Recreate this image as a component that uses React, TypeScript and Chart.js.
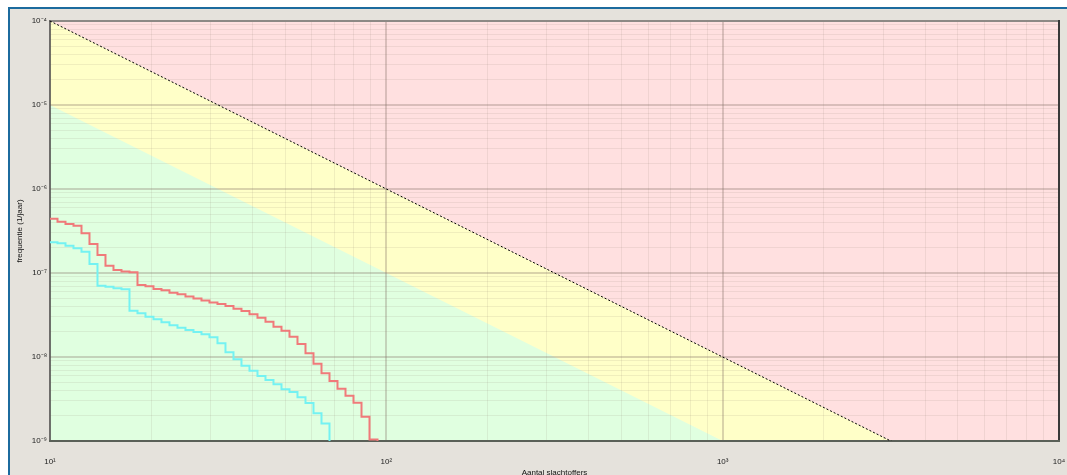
import React, { useEffect, useRef } from 'react';
import { Chart, registerables } from 'chart.js';

Chart.register(...registerables);

// ---- data ----
const limitN = [10, 10000];
const upperLimitF = [1e-4, 1e-10]; // dashed line (F = 1e-2 / N^2)
const lowerLimitF = [1e-5, 1e-11]; // yellow/green boundary (F = 1e-3 / N^2)

const redN = [10, 10.527, 11.119, 11.745, 12.406, 13.104, 13.842, 14.621, 15.444, 16.313, 17.232, 18.202, 19.225, 20.308, 21.451, 22.658, 23.935, 25.281, 26.705, 28.208, 29.796, 31.474, 33.247, 35.118, 37.095, 39.184, 41.391, 43.722, 46.182, 48.783, 51.53, 54.431, 57.497, 60.735, 64.154, 67.766, 71.582, 75.613, 79.871, 84.367, 89.118, 94.14];
const redF = [4.43e-7, 4.08e-7, 3.83e-7, 3.66e-7, 2.97e-7, 2.21e-7, 1.64e-7, 1.22e-7, 1.086e-7, 1.04e-7, 1.02e-7, 7.2e-8, 6.94e-8, 6.45e-8, 6.22e-8, 5.83e-8, 5.58e-8, 5.25e-8, 4.97e-8, 4.71e-8, 4.46e-8, 4.28e-8, 4.05e-8, 3.76e-8, 3.53e-8, 3.22e-8, 2.94e-8, 2.63e-8, 2.29e-8, 2.06e-8, 1.74e-8, 1.43e-8, 1.11e-8, 8.32e-9, 6.4e-9, 5.18e-9, 4.19e-9, 3.46e-9, 2.86e-9, 1.95e-9, 1.04e-9, 1e-10];

const cyanN = [10, 10.527, 11.119, 11.745, 12.406, 13.104, 13.842, 14.621, 15.444, 16.313, 17.232, 18.202, 19.225, 20.308, 21.451, 22.658, 23.935, 25.281, 26.705, 28.208, 29.796, 31.474, 33.247, 35.118, 37.095, 39.184, 41.391, 43.722, 46.182, 48.783, 51.53, 54.431, 57.497, 60.735, 64.154, 67.766];
const cyanF = [2.32e-7, 2.26e-7, 2.11e-7, 1.97e-7, 1.79e-7, 1.28e-7, 7.06e-8, 6.87e-8, 6.58e-8, 6.4e-8, 3.56e-8, 3.31e-8, 3.02e-8, 2.81e-8, 2.59e-8, 2.38e-8, 2.23e-8, 2.1e-8, 1.98e-8, 1.86e-8, 1.72e-8, 1.46e-8, 1.14e-8, 9.39e-9, 7.88e-9, 6.87e-9, 5.94e-9, 5.32e-9, 4.73e-9, 4.13e-9, 3.83e-9, 3.31e-9, 2.83e-9, 2.14e-9, 1.62e-9, 1e-10];

const xMajorValues = [10, 100, 1000, 10000];
const xMajorLabels = ['10¹', '10²', '10³', '10⁴'];
const yMajorValues = [1e-9, 1e-8, 1e-7, 1e-6, 1e-5, 1e-4];
const yMajorLabels = ['10⁻⁹', '10⁻⁸', '10⁻⁷', '10⁻⁶', '10⁻⁵', '10⁻⁴'];

const xTitle = 'Aantal slachtoffers';
const yTitle = 'frequentie (1/jaar)';

// ---- styles ----
const FONT = "'Liberation Sans', Arial, sans-serif";
const RED_ZONE = '#ffe0e0';
const YELLOW_ZONE = '#ffffc8';
const GREEN_ZONE = '#e0ffe0';
const MINOR_GRID = 'rgba(140,120,110,0.13)';
const MAJOR_GRID = 'rgba(130,110,100,0.3)';

const isMajor = (v: number) => {
  if (!(v > 0)) return false;
  const l = Math.log10(v);
  return Math.abs(l - Math.round(l)) < 1e-6;
};

const labelFor = (v: number, values: number[], labels: string[]) => {
  for (let i = 0; i < values.length; i++) {
    if (Math.abs(Math.log10(v) - Math.log10(values[i])) < 1e-6) return labels[i];
  }
  return '';
};

const decadeTicks = (majors: number[]) => {
  const t: { value: number }[] = [];
  for (let i = 0; i < majors.length - 1; i++) {
    for (let m = 1; m < 10; m++) t.push({ value: m * majors[i] });
  }
  t.push({ value: majors[majors.length - 1] });
  return t;
};

const toPoints = (xs: number[], ys: number[]) => xs.map((x, i) => ({ x, y: ys[i] }));

const framePlugin = {
  id: 'frame',
  beforeDatasetsDraw(chart: any) {
    const { ctx, chartArea } = chart;
    const { left, top, right, bottom } = chartArea;
    ctx.save();
    ctx.lineCap = 'square';
    ctx.strokeStyle = '#8d8985';
    ctx.lineWidth = 2;
    ctx.beginPath(); ctx.moveTo(left, top); ctx.lineTo(right, top); ctx.stroke();
    ctx.strokeStyle = '#505050';
    ctx.lineWidth = 1.5;
    ctx.beginPath(); ctx.moveTo(left, top); ctx.lineTo(left, bottom); ctx.stroke();
    ctx.strokeStyle = '#3a3a3a';
    ctx.lineWidth = 2;
    ctx.beginPath(); ctx.moveTo(right, top); ctx.lineTo(right, bottom); ctx.stroke();
    ctx.strokeStyle = '#5a6058';
    ctx.lineWidth = 2;
    ctx.beginPath(); ctx.moveTo(left, bottom); ctx.lineTo(right, bottom); ctx.stroke();
    ctx.restore();
  },
};

export default function App() {
  const ref = useRef<HTMLCanvasElement>(null);

  useEffect(() => {
    const canvas = ref.current;
    if (!canvas) return;
    const chart = new Chart(canvas, {
      type: 'line',
      data: {
        datasets: [
          {
            label: 'red',
            data: toPoints(redN, redF),
            borderColor: '#f07a7a',
            borderWidth: 2,
            pointRadius: 0,
            stepped: 'before',
            fill: false,
          },
          {
            label: 'cyan',
            data: toPoints(cyanN, cyanF),
            borderColor: '#74f2f2',
            borderWidth: 2,
            pointRadius: 0,
            stepped: 'before',
            fill: false,
          },
          {
            label: 'upper limit',
            data: toPoints(limitN, upperLimitF),
            borderColor: '#000000',
            borderWidth: 1,
            borderDash: [2, 2],
            pointRadius: 0,
            fill: false,
          },
          {
            label: 'green zone',
            data: toPoints(limitN, lowerLimitF),
            borderColor: 'rgba(0,0,0,0)',
            borderWidth: 1,
            pointRadius: 0,
            backgroundColor: GREEN_ZONE,
            fill: 'start',
          },
          {
            label: 'yellow zone',
            data: toPoints(limitN, upperLimitF),
            borderColor: 'rgba(0,0,0,0)',
            borderWidth: 1,
            pointRadius: 0,
            backgroundColor: YELLOW_ZONE,
            fill: 'start',
          },
          {
            label: 'red zone',
            data: toPoints(limitN, upperLimitF),
            borderColor: 'rgba(0,0,0,0)',
            borderWidth: 1,
            pointRadius: 0,
            backgroundColor: RED_ZONE,
            fill: 'end',
          },
        ],
      },
      options: {
        animation: false,
        responsive: false,
        devicePixelRatio: 1,
        events: [],
        layout: { padding: { left: 0, top: 12, right: 8, bottom: 0 } },
        plugins: {
          legend: { display: false },
          tooltip: { enabled: false },
          filler: { drawTime: 'beforeDraw', propagate: false },
        },
        scales: {
          x: {
            type: 'logarithmic',
            min: 10,
            max: 10000,
            afterBuildTicks: (scale: any) => { scale.ticks = decadeTicks(xMajorValues); },
            afterFit: (scale: any) => {
              scale.height = 38;
              scale.paddingLeft = 0;
              scale.paddingRight = 0;
            },
            ticks: {
              autoSkip: false,
              maxRotation: 0,
              padding: 16,
              color: '#222',
              font: { family: FONT, size: 8 },
              callback: (v: any) => labelFor(Number(v), xMajorValues, xMajorLabels),
            },
            grid: {
              drawTicks: false,
              color: (c: any) => (isMajor(c.tick?.value) ? MAJOR_GRID : MINOR_GRID),
              lineWidth: (c: any) => (isMajor(c.tick?.value) ? 2 : 1),
            },
            border: { display: false },
            title: {
              display: true,
              text: xTitle,
              color: '#111',
              font: { family: FONT, size: 8 },
              padding: { top: 0, bottom: 1.2 },
            },
          },
          y: {
            type: 'logarithmic',
            min: 1e-9,
            max: 1e-4,
            afterBuildTicks: (scale: any) => { scale.ticks = decadeTicks(yMajorValues); },
            afterFit: (scale: any) => {
              scale.width = 40;
              scale.paddingTop = 0;
              scale.paddingBottom = 0;
            },
            ticks: {
              autoSkip: false,
              padding: 3,
              color: '#222',
              font: { family: FONT, size: 8 },
              callback: (v: any) => labelFor(Number(v), yMajorValues, yMajorLabels),
            },
            grid: {
              drawTicks: false,
              color: (c: any) => (isMajor(c.tick?.value) ? MAJOR_GRID : MINOR_GRID),
              lineWidth: (c: any) => (isMajor(c.tick?.value) ? 2 : 1),
            },
            border: { display: false },
            title: {
              display: true,
              text: yTitle,
              color: '#111',
              font: { family: FONT, size: 8 },
              padding: { top: 4.6, bottom: 0 },
            },
          },
        },
      } as any,
      plugins: [framePlugin],
    });
    return () => chart.destroy();
  }, []);

  return (
    <div style={{ position: 'fixed', left: 0, top: 0, width: 1067, height: 475, background: '#ffffff', overflow: 'hidden' }}>
      <div
        style={{
          position: 'absolute',
          left: 8,
          top: 7,
          width: 1059,
          height: 468,
          boxSizing: 'border-box',
          borderTop: '2px solid #1c6b9e',
          borderLeft: '2px solid #1c6b9e',
          background: '#e5e2dc',
        }}
      >
        <canvas ref={ref} width={1057} height={470} style={{ display: 'block', width: 1057, height: 470 }} />
      </div>
    </div>
  );
}
